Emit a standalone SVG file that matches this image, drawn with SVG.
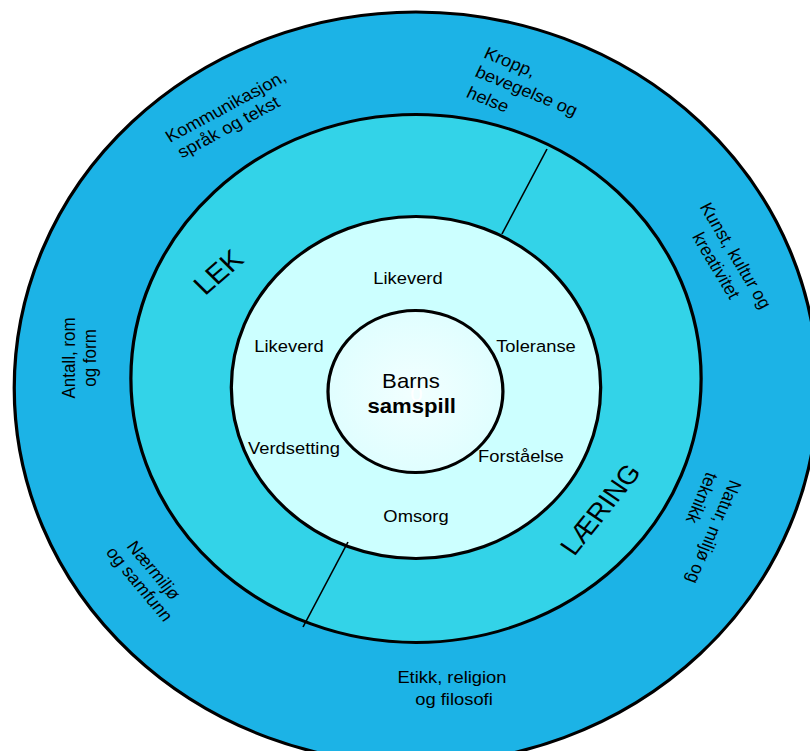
<svg xmlns="http://www.w3.org/2000/svg" width="810" height="751" viewBox="0 0 810 751">
<defs>
<style>
.ring{stroke:#000;stroke-width:3}
.t{font-family:"Liberation Sans",Arial,sans-serif;font-size:17px;fill:#000}
.c{text-anchor:middle}
.big{font-size:27px}
.mid{font-size:20.5px}
.conn{stroke:#000;stroke-width:1.5;fill:none}
</style>
<radialGradient id="cg" cx="0.5" cy="0.5" r="0.5">
<stop offset="0" stop-color="#F2FFFF"/>
<stop offset="1" stop-color="#E0FEFF"/>
</radialGradient>
</defs>
<rect width="810" height="751" fill="#FFFFFF"/>
<g transform="matrix(1.08 0 0 1 -33.28 0)">
<g id="outer-ring"><ellipse cx="416" cy="388" rx="372" ry="376" fill="#1CB3E6" class="ring"/></g>
<g id="middle-ring"><circle cx="416" cy="378.5" r="264" fill="#33D3E8" class="ring"/></g>
<g id="inner-ring"><circle cx="416" cy="387.5" r="171" fill="#CCFFFF" class="ring"/></g>
<g id="center"><circle cx="415.5" cy="391.5" r="81" fill="url(#cg)" class="ring"/>
<text class="t c mid" x="416.5" y="401" style="fill:#FFFFFF">0</text>
<text class="t c mid" x="411.4" y="388">Barns</text>
<text class="t c mid" x="412" y="413" font-weight="bold">samspill</text>
</g>
<g id="connectors">
<line class="conn" x1="537.3" y1="149" x2="495.6" y2="234"/>
<line class="conn" x1="353" y1="542" x2="311.4" y2="627"/>
</g>
<g id="values">
<text class="t c" x="408.6" y="284">Likeverd</text>
<text class="t c" x="298.4" y="352">Likeverd</text>
<text class="t c" x="527.1" y="352">Toleranse</text>
<text class="t c" x="303" y="454">Verdsetting</text>
<text class="t c" x="513.2" y="462">Forståelse</text>
<text class="t c" x="416" y="522">Omsorg</text>
</g>
<g id="lek" transform="translate(232.7,272) rotate(-43)"><text class="t c big" x="0" y="9.5">LEK</text></g>
<g id="laering" transform="translate(586.4,509) rotate(-53.5)"><text class="t c" style="font-size:26px" x="0" y="9.3">LÆRING</text></g>
<g id="kommunikasjon" transform="translate(188.2,143) rotate(-30)">
<text class="t" x="0" y="0">Kommunikasjon,</text>
<text class="t" x="2" y="19">språk og tekst</text>
</g>
<g id="kropp" transform="translate(477.8,57.3) rotate(23.6)">
<text class="t" x="0" y="0">Kropp,</text>
<text class="t" x="0" y="20.4">bevegelse og</text>
<text class="t" x="1" y="42.5">helse</text>
</g>
<g id="kunst" transform="translate(707,258.3) rotate(60.9)">
<text class="t c" x="0" y="0">Kunst, kultur og</text>
<text class="t c" x="0" y="20.7">kreativitet</text>
</g>
<g id="natur" transform="translate(707,479) rotate(111.9)">
<text class="t" x="0" y="0">Natur, miljø og</text>
<text class="t" x="1" y="23">teknikk</text>
</g>
<g id="etikk">
<text class="t c" x="449.3" y="683.5">Etikk, religion</text>
<text class="t c" x="451.2" y="705">og filosofi</text>
</g>
<g id="naermiljo" transform="translate(168.7,573.7) rotate(52.2)">
<text class="t c" x="0" y="0">Nærmiljø</text>
<text class="t c" x="3" y="19">og samfunn</text>
</g>
<g id="antall" transform="translate(100.3,358) rotate(-90)">
<text class="t c" x="0" y="0">Antall, rom</text>
<text class="t c" x="0" y="19.4">og form</text>
</g>
</g>
</svg>
